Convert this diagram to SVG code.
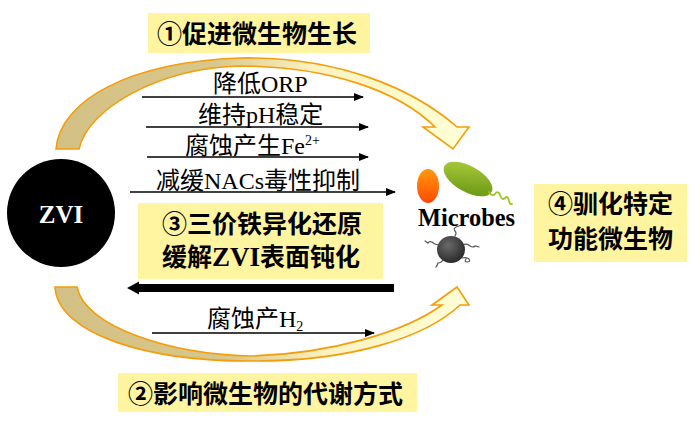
<svg xmlns="http://www.w3.org/2000/svg" width="700" height="426" viewBox="0 0 700 426">
<style>
.box{fill:#fff4a0}
.bt{font-family:"Noto Sans CJK SC","Liberation Sans",sans-serif;font-weight:bold;font-size:25px;fill:#000}
.lt{font-family:"Liberation Serif","Noto Sans CJK SC",serif;font-size:24px;fill:#000}
.ln{stroke:#000;stroke-width:1.6;fill:none;marker-end:url(#ah)}
.arc{stroke:#f59d0a;stroke-width:1.6;stroke-linejoin:miter}
.leg{fill:none;stroke:#555;stroke-width:1.2;stroke-linecap:round}
</style>
<defs>
<marker id="ah" viewBox="0 0 10 8" refX="9" refY="4" markerWidth="10" markerHeight="8" markerUnits="userSpaceOnUse" orient="auto">
<path d="M0,0 L10,4 L0,8 Z" fill="#000"/>
</marker>
<linearGradient id="gUp" gradientUnits="userSpaceOnUse" x1="55" y1="0" x2="470" y2="0">
<stop offset="0" stop-color="#d3c084"/>
<stop offset="0.38" stop-color="#d8c78c"/>
<stop offset="0.62" stop-color="#fbf2c0"/>
<stop offset="1" stop-color="#ffffd6"/>
</linearGradient>
<linearGradient id="gDn" gradientUnits="userSpaceOnUse" x1="55" y1="0" x2="470" y2="0">
<stop offset="0" stop-color="#d3c084"/>
<stop offset="0.42" stop-color="#d8c78c"/>
<stop offset="0.65" stop-color="#fbf2c0"/>
<stop offset="1" stop-color="#ffffd6"/>
</linearGradient>
<radialGradient id="gBall" cx="0.4" cy="0.35" r="0.7">
<stop offset="0" stop-color="#6a6a6a"/>
<stop offset="1" stop-color="#262626"/>
</radialGradient>
<linearGradient id="gOr" x1="0" y1="0" x2="0" y2="1">
<stop offset="0" stop-color="#ff9a10"/>
<stop offset="1" stop-color="#ff4a00"/>
</linearGradient>
<linearGradient id="gGr" x1="0" y1="0" x2="1" y2="1">
<stop offset="0" stop-color="#b4d040"/>
<stop offset="1" stop-color="#5f9010"/>
</linearGradient>
</defs>

<g id="connectors">
<path class="arc" fill="url(#gUp)" d="M56,149 C60,100 130,62 240,58 C340,56 415,90 457,127 L469,127 L453,149 L423,127 L435,127 C400,92 330,66 240,66 C160,68 88,108 79,149 Z"/>
<path class="arc" fill="url(#gDn)" d="M55,287 C58,335 150,362 255,361 C350,361 425,338 460,305 L469,305 L457,287 L432,305 L442,305 C405,332 330,354 250,356 C170,354 85,327 77,287 Z"/>
<line class="ln" x1="142" y1="97" x2="363" y2="97"/>
<line class="ln" x1="146" y1="127" x2="368" y2="127"/>
<line class="ln" x1="147" y1="157" x2="368" y2="157"/>
<line class="ln" x1="130" y1="192" x2="395" y2="192"/>
<line class="ln" x1="152" y1="333" x2="374" y2="333"/>
<path d="M394,284 L139,284 L139,281.5 L127,288 L139,294.5 L139,292 L394,292 Z" fill="#000"/>
</g>

<g id="connector-labels">
<text class="lt" x="213" y="92">降低ORP</text>
<text class="lt" x="198" y="123">维持pH稳定</text>
<text class="lt" x="185" y="154">腐蚀产生Fe<tspan font-size="14" dy="-9">2+</tspan></text>
<text class="lt" x="156" y="189">减缓NACs毒性抑制</text>
<text class="lt" x="207" y="327">腐蚀产H<tspan font-size="14" dy="4">2</tspan></text>
</g>

<g id="label-1">
<rect class="box" x="148" y="13" width="222" height="40"/>
<text class="bt" x="157" y="43">①促进微生物生长</text>
</g>

<g id="label-2">
<rect class="box" x="118" y="373" width="299" height="39"/>
<text class="bt" x="128" y="403">②影响微生物的代谢方式</text>
</g>

<g id="label-3">
<rect class="box" x="138" y="203" width="245" height="76"/>
<text class="bt" x="162" y="233">③三价铁异化还原</text>
<text class="bt" x="162" y="266">缓解<tspan font-family="Liberation Serif,serif" font-weight="bold" font-size="27">ZVI</tspan>表面钝化</text>
</g>

<g id="label-4">
<rect class="box" x="534" y="184" width="153" height="78"/>
<text class="bt" x="548" y="213">④驯化特定</text>
<text class="bt" x="548" y="248">功能微生物</text>
</g>

<g id="node-zvi">
<circle cx="61" cy="213" r="54" fill="#000"/>
<text x="61" y="223" text-anchor="middle" font-family="Liberation Serif,serif" font-weight="bold" font-size="25" fill="#fff">ZVI</text>
</g>

<g id="node-microbes">
<ellipse cx="428" cy="186" rx="11" ry="17" fill="url(#gOr)"/>
<ellipse cx="468" cy="179" rx="27" ry="13" transform="rotate(29 468 179)" fill="url(#gGr)"/>
<path d="M489,192 q3,5 6,2 q3,-4 5,1 q2,6 5,3 q3,-3 4,3 q1,4 3,3" fill="none" stroke="#9cc820" stroke-width="1.8" stroke-linecap="round"/>
<text x="418" y="226" font-family="Liberation Serif,serif" font-weight="bold" font-size="25" textLength="97" lengthAdjust="spacingAndGlyphs" fill="#000">Microbes</text>
<path class="leg" d="M455,236 q2,-3 0,-5 q-2,-2 1,-4 l3,-1"/>
<path class="leg" d="M438,245 q-4,-1 -6,-3 q-3,-1 -4,1 l-3,-2"/>
<path class="leg" d="M463,245 q4,-2 7,1 q3,2 5,0 l4,1"/>
<path class="leg" d="M443,260 q-2,3 -5,3 q-1,3 -2,4"/>
<path class="leg" d="M462,258 q5,-1 7,1 q2,3 -2,3 q-3,0 -1,-3"/>
<ellipse cx="451" cy="249.5" rx="14" ry="13.5" fill="url(#gBall)"/>
</g>
</svg>
